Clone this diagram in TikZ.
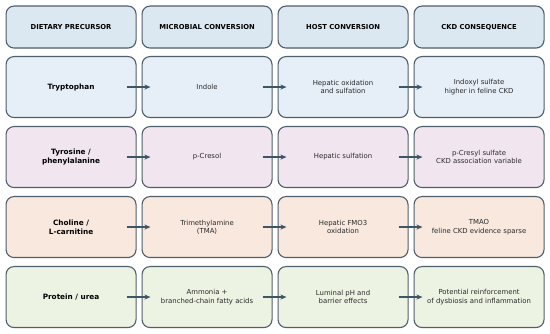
\documentclass[tikz,border=0pt]{standalone}
\usepackage{fontspec}
\setmainfont{DejaVu Sans}
\usetikzlibrary{arrows.meta}
\definecolor{hdr}{HTML}{DCE8F1}
\definecolor{rowA}{HTML}{E6EEF7}
\definecolor{rowB}{HTML}{F1E6F0}
\definecolor{rowC}{HTML}{F8E8DE}
\definecolor{rowD}{HTML}{EDF3E3}
\definecolor{edge}{HTML}{4F5F6D}
\definecolor{arr}{HTML}{3E5566}
\definecolor{txt}{HTML}{2A2A2A}
\tikzset{
  cell/.style={draw=edge, line width=1.1pt, rounded corners=8pt, minimum width=130pt, inner sep=0pt, align=center, anchor=north west, font=\fontsize{6.9}{8.4}\selectfont, text=txt},
  hcell/.style={cell, fill=hdr, minimum height=42pt, font=\bfseries\fontsize{6.8}{8}\selectfont, text=black},
  bcell/.style={cell, minimum height=61pt},
  lcell/.style={bcell, font=\bfseries\fontsize{7.3}{8.8}\selectfont, text=black},
  flow/.style={-{Stealth[length=6pt,width=5pt]}, draw=arr, fill=arr, line width=1.2pt}
}
\begin{document}
\begin{tikzpicture}[x=1pt,y=-1pt]
\useasboundingbox (0,0) rectangle (550,334);
\fill[white] (0,0) rectangle (550,334);
% header
\node[hcell] (h1) at (5.5,5.5) {DIETARY PRECURSOR};
\node[hcell] (h2) at (141.5,5.5) {MICROBIAL CONVERSION};
\node[hcell] (h3) at (277.5,5.5) {HOST CONVERSION};
\node[hcell] (h4) at (413.5,5.5) {CKD CONSEQUENCE};
% row 1
\node[lcell, fill=rowA] (a1) at (5.5,56) {Tryptophan};
\node[bcell, fill=rowA] (a2) at (141.5,56) {Indole};
\node[bcell, fill=rowA] (a3) at (277.5,56) {Hepatic oxidation\\and sulfation};
\node[bcell, fill=rowA] (a4) at (413.5,56) {Indoxyl sulfate\\higher in feline CKD};
% row 2
\node[lcell, fill=rowB] (b1) at (5.5,126) {Tyrosine /\\phenylalanine};
\node[bcell, fill=rowB] (b2) at (141.5,126) {p-Cresol};
\node[bcell, fill=rowB] (b3) at (277.5,126) {Hepatic sulfation};
\node[bcell, fill=rowB] (b4) at (413.5,126) {p-Cresyl sulfate\\CKD association variable};
% row 3
\node[lcell, fill=rowC] (c1) at (5.5,196) {Choline /\\L-carnitine};
\node[bcell, fill=rowC] (c2) at (141.5,196) {Trimethylamine\\(TMA)};
\node[bcell, fill=rowC] (c3) at (277.5,196) {Hepatic FMO3\\oxidation};
\node[bcell, fill=rowC] (c4) at (413.5,196) {TMAO\\feline CKD evidence sparse};
% row 4
\node[lcell, fill=rowD] (d1) at (5.5,266) {Protein / urea};
\node[bcell, fill=rowD] (d2) at (141.5,266) {Ammonia +\\branched-chain fatty acids};
\node[bcell, fill=rowD] (d3) at (277.5,266) {Luminal pH and\\barrier effects};
\node[bcell, fill=rowD] (d4) at (413.5,266) {Potential reinforcement\\of dysbiosis and inflammation};
% arrows
\foreach \r in {a,b,c,d}{
  \draw[flow] ([xshift=-10pt]\r1.east) -- ([xshift=9pt]\r2.west);
  \draw[flow] ([xshift=-10pt]\r2.east) -- ([xshift=9pt]\r3.west);
  \draw[flow] ([xshift=-10pt]\r3.east) -- ([xshift=9pt]\r4.west);
}
\end{tikzpicture}
\end{document}
